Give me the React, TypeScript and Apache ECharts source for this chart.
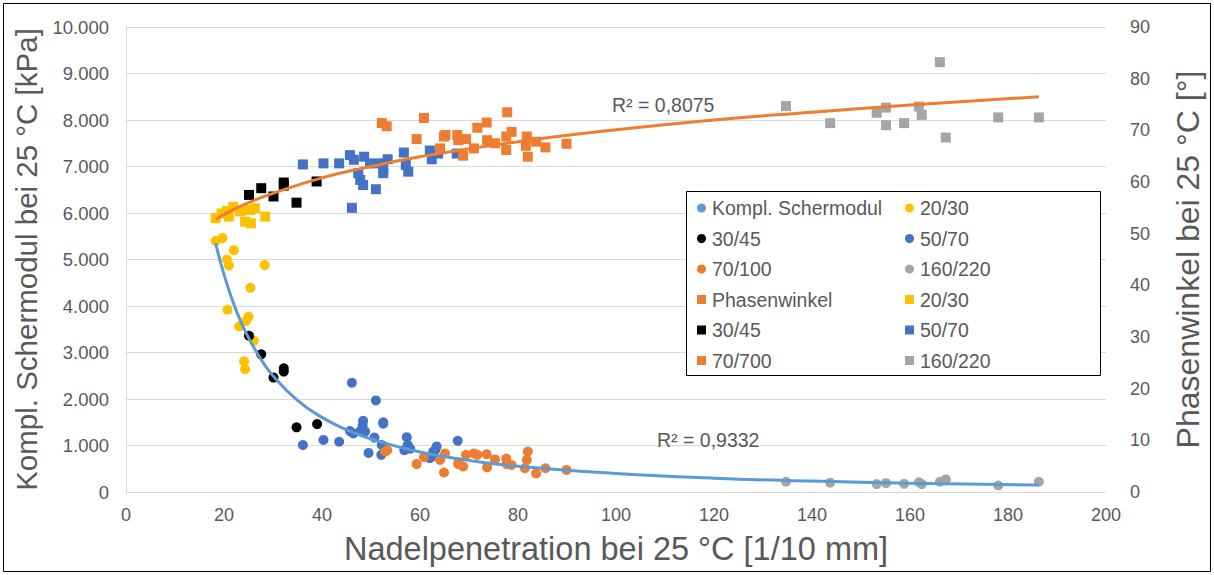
import React, { useEffect, useRef } from "react";
import * as echarts from "echarts";

// ---- Data (x: Nadelpenetration [1/10 mm]) ----
// Complex shear modulus [kPa] (circles, left axis)
const mod2030: number[][] = [[18.3,5400],[19.7,5460],[22.0,5200],[20.6,5000],[21.0,4870],[28.3,4880],[25.4,4390],[20.7,3920],[25.0,3770],[24.5,3680],[23.1,3560],[26.1,3250],[24.1,2810],[24.3,2640]];
const mod3045: number[][] = [[25.1,3360],[27.6,2960],[30.1,2460],[32.2,2660],[32.2,2590],[34.8,1390],[39.0,1460]];
const mod5070: number[][] = [[36.1,1010],[40.3,1120],[43.5,1080],[46.1,2350],[45.7,1310],[46.4,1260],[47.8,1310],[48.4,1530],[48.3,1430],[48.8,1300],[51.0,1970],[50.7,1170],[49.5,840],[52.2,1010],[52.5,1500],[52.5,1470],[52.1,800],[56.8,900],[57.3,1180],[57.5,1010],[58.0,930],[62.0,730],[63.4,980],[63.1,900],[62.7,770],[62.7,870],[67.7,1100]];
const mod70100: number[][] = [[52.9,870],[53.3,900],[59.3,600],[60.8,750],[64.1,690],[64.9,420],[65.1,830],[67.8,600],[67.9,640],[68.8,550],[69.4,800],[71.0,830],[71.7,800],[73.6,810],[73.7,530],[75.3,700],[77.6,720],[77.7,600],[78.7,580],[82.0,870],[81.8,690],[81.4,510],[83.7,400],[85.6,510],[89.9,475]];
const mod160220: number[][] = [[134.7,220],[143.7,200],[153.2,170],[155.1,190],[158.8,175],[161.8,210],[162.4,170],[166.1,220],[167.3,270],[178.0,140],[186.3,220]];

// Phase angle [°] (squares, right axis)
const ph2030: number[][] = [[18.3,53.0],[19.5,53.9],[20.6,54.4],[21.0,53.3],[21.9,55.2],[23.3,54.3],[24.3,52.3],[25.5,52.0],[25.3,54.6],[26.3,54.9],[28.4,53.3]];
const ph3045: number[][] = [[25.1,57.5],[27.6,58.8],[30.1,57.2],[32.2,59.9],[32.2,59.3],[34.8,56.0],[38.9,60.1]];
const ph5070: number[][] = [[36.1,63.4],[40.3,63.6],[43.5,63.6],[45.7,65.2],[46.5,64.3],[46.1,55.0],[47.4,61.7],[47.8,60.4],[48.4,59.4],[48.6,64.9],[49.8,63.6],[51.0,58.6],[51.8,63.6],[52.5,61.7],[52.5,62.6],[53.4,64.4],[56.7,65.7],[57.1,63.3],[57.6,62.0],[62.0,66.1],[62.4,64.4],[63.7,65.5],[67.5,65.5]];
const ph70100: number[][] = [[52.2,71.4],[53.2,70.8],[59.3,68.3],[60.8,72.4],[64.1,66.5],[64.9,68.8],[65.2,69.1],[67.6,69.1],[67.8,68.1],[68.8,65.1],[69.4,68.3],[71.0,66.5],[71.7,70.5],[73.6,71.5],[73.7,68.1],[75.3,67.5],[77.6,68.8],[77.8,73.5],[78.7,69.7],[77.6,66.2],[81.8,68.8],[81.6,67.0],[82.0,64.9],[83.7,67.8],[85.6,66.7],[89.9,67.4]];
const ph160220: number[][] = [[134.7,74.7],[143.7,71.4],[153.2,73.4],[155.1,74.4],[155.1,71.0],[158.8,71.4],[161.8,74.6],[162.4,73.0],[166.1,83.2],[167.3,68.6],[178.0,72.5],[186.3,72.5]];

// Trend lines
const trendModulus: number[][] = [[18.3,5350],[20,4680],[22.5,3900],[25,3320],[27.5,2860],[30,2500],[35,1970],[40,1605],[45,1340],[50,1140],[60,860],[70,680],[80,553],[100,400],[120,298],[140,234],[160,190],[186.3,150]];
const trendPhase: number[][] = [[18.3,52.8],[20,53.7],[25,56.0],[30,57.8],[40,60.8],[50,63.0],[60,64.9],[80,67.8],[100,70.1],[120,72.0],[140,73.5],[160,74.9],[186.3,76.5]];

const r2Phase = "R² = 0,8075";
const r2Modulus = "R² = 0,9332";

const xTicks = { min: 0, max: 200, interval: 20 };
const yLeftTicks = { min: 0, max: 10000, interval: 1000 };
const yRightTicks = { min: 0, max: 90, interval: 10 };

const legendLabels: Record<string, string> = {
  "Kompl. Schermodul": "Kompl. Schermodul",
  m2030: "20/30", m3045: "30/45", m5070: "50/70", m70100: "70/100", m160220: "160/220",
  Phasenwinkel: "Phasenwinkel",
  p2030: "20/30", p3045: "30/45", p5070: "50/70", p70100: "70/700", p160220: "160/220",
};

const C_YELLOW = "#FFC000";
const C_BLACK = "#000000";
const C_BLUE = "#4472C4";
const C_ORANGE = "#ED7D31";
const C_GREY = "#A5A5A5";
const C_LBLUE = "#5B9BD5";
const TXT = "#595959";
const FONT = "Liberation Sans, Arial, sans-serif";

export default function App() {
  const ref = useRef<HTMLDivElement>(null);
  useEffect(() => {
    if (!ref.current) return;
    const chart = echarts.init(ref.current, null, { renderer: "svg" });
    const scatter = (name: string, data: number[][], color: string, symbol: string, yAxisIndex: number) => ({
      name, type: "scatter", data, yAxisIndex, symbol, symbolSize: 10,
      itemStyle: { color, opacity: 1 }, z: 2,
    });
    const legendCommon = {
      orient: "vertical",
      padding: 0,
      itemGap: 10.5,
      itemWidth: 9,
      itemHeight: 9,
      z: 5,
      selectedMode: false,
      formatter: (n: string) => legendLabels[n] ?? n,
      textStyle: { fontSize: 19.5, color: TXT, fontFamily: FONT, lineHeight: 20, padding: [0, 0, 0, 1] },
    };
    const option: any = {
      animation: false,
      textStyle: { fontFamily: FONT },
      grid: { left: 126, right: 108, top: 27, bottom: 83 },
      xAxis: {
        type: "value", ...xTicks,
        name: "Nadelpenetration bei 25 °C [1/10 mm]",
        nameLocation: "middle", nameGap: 40,
        nameTextStyle: { fontSize: 32.5, color: TXT, fontFamily: FONT },
        axisLine: { show: true, lineStyle: { color: "#d9d9d9", width: 1 } },
        axisTick: { show: false },
        splitLine: { show: false },
        axisLabel: { fontSize: 18, color: TXT, margin: 14, fontFamily: FONT },
      },
      yAxis: [
        {
          type: "value", ...yLeftTicks, position: "left",
          name: "Kompl. Schermodul bei 25 °C [kPa]",
          nameLocation: "middle", nameGap: 78, nameRotate: 90,
          nameTextStyle: { fontSize: 29.5, color: TXT, fontFamily: FONT },
          axisLine: { show: true, lineStyle: { color: "#d9d9d9", width: 1 } },
          axisTick: { show: false },
          splitLine: { show: true, lineStyle: { color: "#d9d9d9", width: 1 } },
          axisLabel: {
            fontSize: 18.5, color: TXT, margin: 17, fontFamily: FONT,
            formatter: (v: number) => String(v).replace(/\B(?=(\d{3})+(?!\d))/g, "."),
          },
        },
        {
          type: "value", ...yRightTicks, position: "right",
          name: "Phasenwinkel bei 25 °C [°]",
          nameLocation: "middle", nameGap: 66, nameRotate: 90,
          nameTextStyle: { fontSize: 32, color: TXT, fontFamily: FONT },
          axisLine: { show: false },
          axisTick: { show: false },
          splitLine: { show: false },
          axisLabel: { fontSize: 18, color: TXT, margin: 24, fontFamily: FONT },
        },
      ],
      legend: [
        {
          ...legendCommon, left: 697, top: 198,
          data: [
            { name: "Kompl. Schermodul", icon: "circle", itemStyle: { color: C_LBLUE } },
            { name: "m3045", icon: "circle" },
            { name: "m70100", icon: "circle" },
            { name: "Phasenwinkel", icon: "rect", itemStyle: { color: C_ORANGE } },
            { name: "p3045", icon: "rect" },
            { name: "p70100", icon: "rect" },
          ],
        },
        {
          ...legendCommon, left: 905, top: 198,
          data: [
            { name: "m2030", icon: "circle" },
            { name: "m5070", icon: "circle" },
            { name: "m160220", icon: "circle" },
            { name: "p2030", icon: "rect" },
            { name: "p5070", icon: "rect" },
            { name: "p160220", icon: "rect" },
          ],
        },
      ],
      graphic: [
        {
          type: "rect", z: 4, silent: true,
          shape: { x: 686.5, y: 191.5, width: 414, height: 184 },
          style: { fill: "#ffffff", stroke: "#000000", lineWidth: 1 },
        },
        {
          type: "rect", z: 0, silent: true,
          shape: { x: 3.5, y: 3.5, width: 1207, height: 568 },
          style: { fill: "none", stroke: "#000000", lineWidth: 1 },
        },
        {
          type: "text", left: 612, top: 95, z: 5,
          style: { text: r2Phase, fontSize: 19.5, fill: TXT, fontFamily: FONT },
        },
        {
          type: "text", left: 657, top: 430, z: 5,
          style: { text: r2Modulus, fontSize: 19.5, fill: TXT, fontFamily: FONT },
        },
      ],
      series: [
        {
          name: "Kompl. Schermodul", type: "line", data: trendModulus, yAxisIndex: 0,
          smooth: true, showSymbol: false, symbol: "none",
          lineStyle: { color: C_LBLUE, width: 3 }, itemStyle: { color: C_LBLUE }, z: 3,
        },
        scatter("m2030", mod2030, C_YELLOW, "circle", 0),
        scatter("m3045", mod3045, C_BLACK, "circle", 0),
        scatter("m5070", mod5070, C_BLUE, "circle", 0),
        scatter("m70100", mod70100, C_ORANGE, "circle", 0),
        scatter("m160220", mod160220, C_GREY, "circle", 0),
        {
          name: "Phasenwinkel", type: "line", data: trendPhase, yAxisIndex: 1,
          smooth: true, showSymbol: false, symbol: "none",
          lineStyle: { color: C_ORANGE, width: 3 }, itemStyle: { color: C_ORANGE }, z: 3,
        },
        scatter("p2030", ph2030, C_YELLOW, "rect", 1),
        scatter("p3045", ph3045, C_BLACK, "rect", 1),
        scatter("p5070", ph5070, C_BLUE, "rect", 1),
        scatter("p70100", ph70100, C_ORANGE, "rect", 1),
        scatter("p160220", ph160220, C_GREY, "rect", 1),
      ],
    };
    chart.setOption(option);
    return () => chart.dispose();
  }, []);
  return (
    <div
      ref={ref}
      style={{ position: "absolute", left: 0, top: 0, width: 1214, height: 575, background: "#ffffff" }}
    />
  );
}
